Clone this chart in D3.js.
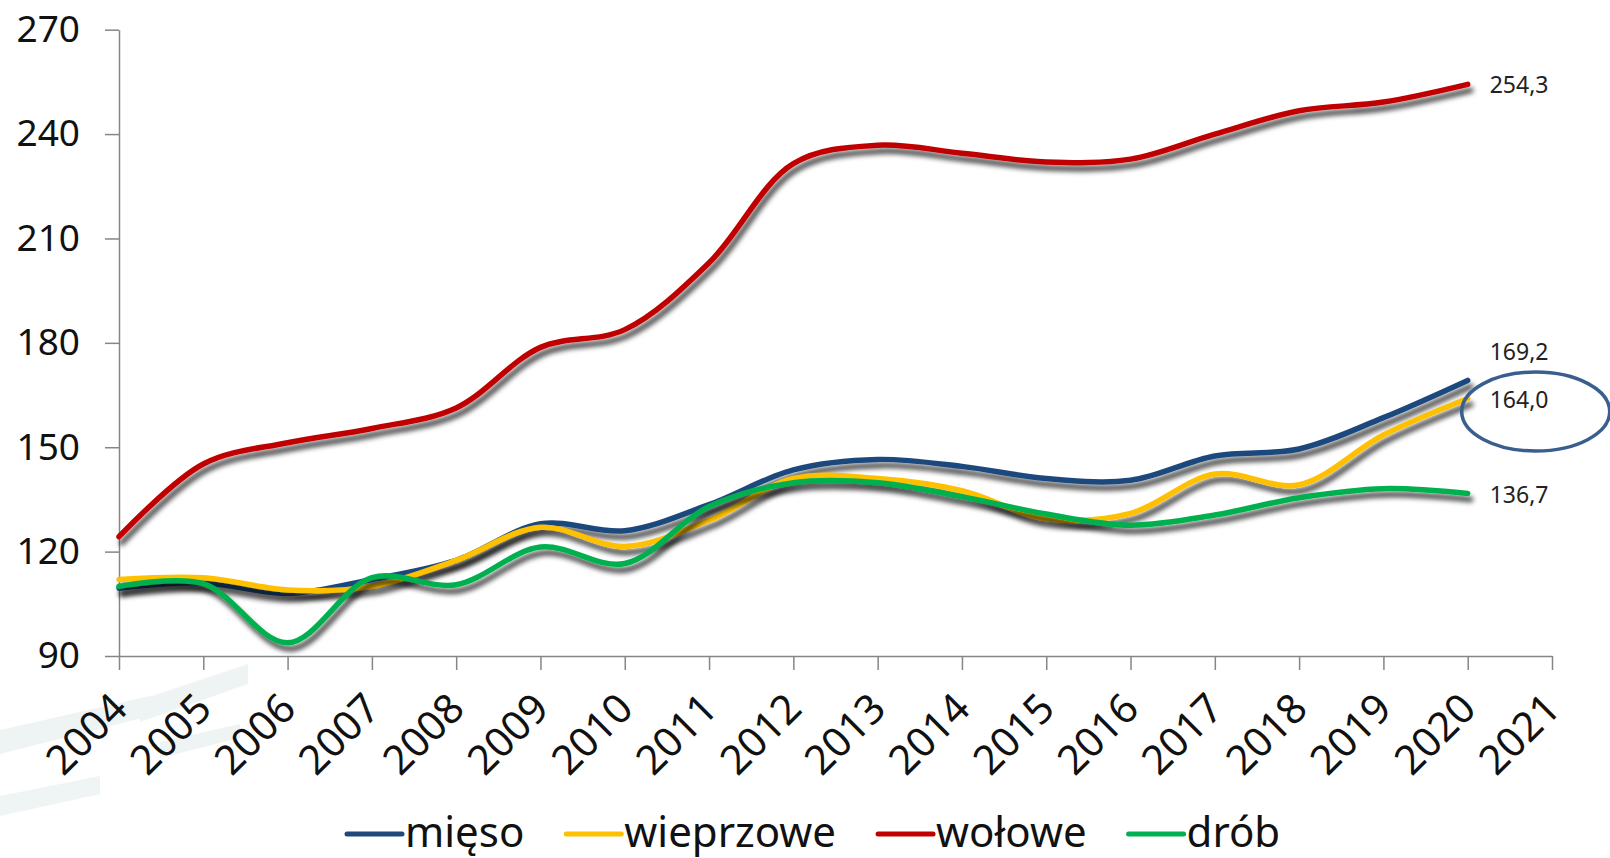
<!DOCTYPE html>
<html>
<head>
<meta charset="utf-8">
<script src="https://cdn.jsdelivr.net/npm/d3@7/dist/d3.min.js"></script>
<style>
  html, body { margin: 0; padding: 0; background: #ffffff; }
  svg { display: block; }
  text { font-family: "Noto Sans", "Open Sans", "DejaVu Sans", sans-serif; }
</style>
</head>
<body>
<svg id="chart" width="1610" height="858"></svg>
<script>
// ---- data ----
const years = [2004, 2005, 2006, 2007, 2008, 2009, 2010, 2011, 2012, 2013, 2014, 2015, 2016, 2017, 2018, 2019, 2020];
const axisYears = [2004, 2005, 2006, 2007, 2008, 2009, 2010, 2011, 2012, 2013, 2014, 2015, 2016, 2017, 2018, 2019, 2020, 2021];
const yTicks = [90, 120, 150, 180, 210, 240, 270];
const seriesNames = ["mięso", "wieprzowe", "wołowe", "drób"];
const mieso     = [109.5, 111.0, 108.0, 112.0, 117.5, 128.0, 126.0, 133.5, 143.5, 146.5, 144.5, 141.0, 140.5, 147.5, 149.5, 158.5, 169.2];
const wieprzowe = [112.0, 112.5, 109.0, 110.0, 117.5, 127.0, 121.5, 129.0, 141.0, 141.0, 137.5, 129.5, 131.0, 142.3, 139.2, 153.5, 164.0];
const wolowe    = [124.3, 145.2, 151.3, 155.4, 161.3, 178.7, 183.8, 203.0, 231.5, 236.8, 234.5, 232.0, 232.8, 240.0, 246.7, 249.2, 254.3];
const drob      = [110.0, 110.8, 93.8, 112.5, 110.5, 121.3, 116.6, 133.0, 139.8, 139.8, 135.8, 130.8, 127.6, 130.5, 135.5, 138.1, 136.7];
const endLabels = ["169,2", "164,0", "254,3", "136,7"];

// ---- styles ----
const colors = ["#1F497D", "#FFC000", "#C00000", "#00B050"];
const labelDy = [-29, 0, 0, 0];
const seriesValues = [mieso, wieprzowe, wolowe, drob];

const svg = d3.select("#chart");

// faint watermark-like strokes (decorative background)
const wm = svg.append("g").attr("fill", "#e4ecee").attr("opacity", 0.6);
[
  [[140, 700], [248, 664], [248, 684], [140, 722]],
  [[0, 730], [150, 696], [150, 716], [0, 754]],
  [[0, 796], [100, 776], [100, 794], [0, 816]],
  [[160, 742], [240, 724], [240, 738], [160, 758]]
].forEach(p => wm.append("polygon").attr("points", p.map(d => d.join(",")).join(" ")));

const defs = svg.append("defs");
const f = defs.append("filter").attr("id", "shadow")
  .attr("x", "-5%").attr("y", "-20%").attr("width", "110%").attr("height", "140%");
f.append("feDropShadow").attr("dx", 3).attr("dy", 6).attr("stdDeviation", 2.5)
  .attr("flood-color", "#000").attr("flood-opacity", 0.72);

const x = d3.scalePoint().domain(axisYears).range([119, 1552]);
const y = d3.scaleLinear().domain([90, 270]).range([656, 29.7]);

// y axis
const yAxis = svg.append("g").attr("transform", "translate(119,0)")
  .call(d3.axisLeft(y).tickValues(yTicks).tickSize(14).tickSizeOuter(0).tickPadding(25));
yAxis.select(".domain").attr("stroke", "#868686").attr("stroke-width", 1.5);
yAxis.selectAll(".tick line").attr("stroke", "#868686").attr("stroke-width", 1.5);
yAxis.selectAll(".tick text").attr("font-size", 37).attr("fill", "#111")
  .attr("font-family", "'Noto Sans', 'Open Sans', sans-serif");

// x axis
const xAxis = svg.append("g").attr("transform", "translate(0,656)")
  .call(d3.axisBottom(x).tickSize(14).tickSizeOuter(0).tickFormat(d3.format("d")));
xAxis.select(".domain").attr("stroke", "#868686").attr("stroke-width", 1.5);
xAxis.selectAll(".tick line").attr("stroke", "#868686").attr("stroke-width", 1.5);
xAxis.selectAll(".tick text")
  .attr("font-size", 41).attr("fill", "#111")
  .attr("font-family", "'Noto Sans', 'Open Sans', sans-serif")
  .attr("text-anchor", "end")
  .attr("dy", null).attr("y", null)
  .attr("transform", "translate(10,55) rotate(-45)");

// lines
const line = d3.line()
  .x((d, i) => x(years[i]))
  .y(d => y(d))
  .curve(d3.curveCatmullRom.alpha(0.5));

const gLines = svg.append("g");
seriesValues.forEach((vals, k) => {
  gLines.append("path")
    .datum(vals)
    .attr("d", line)
    .attr("fill", "none")
    .attr("stroke", colors[k])
    .attr("stroke-width", 5.5)
    .attr("stroke-linecap", "round")
    .attr("stroke-linejoin", "round")
    .attr("filter", "url(#shadow)");
});

// end labels
const lastYear = years[years.length - 1];
seriesValues.forEach((vals, k) => {
  svg.append("text")
    .attr("x", x(lastYear) + 22)
    .attr("y", y(vals[vals.length - 1]) + labelDy[k])
    .attr("dominant-baseline", "central")
    .attr("font-size", 23)
    .attr("fill", "#222")
    .text(endLabels[k]);
});

// annotation ellipse round 164,0
svg.append("ellipse")
  .attr("cx", x(lastYear) + 68)
  .attr("cy", y(wieprzowe[wieprzowe.length - 1]) + 13)
  .attr("rx", 74).attr("ry", 39.5)
  .attr("fill", "none")
  .attr("stroke", "#3A5F8E")
  .attr("stroke-width", 3.5);

// legend
const legend = svg.append("g");
let lx = 347;
const ly = 834;
seriesNames.forEach((name, k) => {
  legend.append("line")
    .attr("x1", lx).attr("x2", lx + 55)
    .attr("y1", ly).attr("y2", ly)
    .attr("stroke", colors[k]).attr("stroke-width", 5)
    .attr("stroke-linecap", "round");
  const t = legend.append("text")
    .attr("x", lx + 58).attr("y", 847)
    .attr("font-size", 42).attr("fill", "#111")
    .text(name);
  lx = lx + 58 + t.node().getComputedTextLength() + 42;
});
</script>
</body>
</html>
